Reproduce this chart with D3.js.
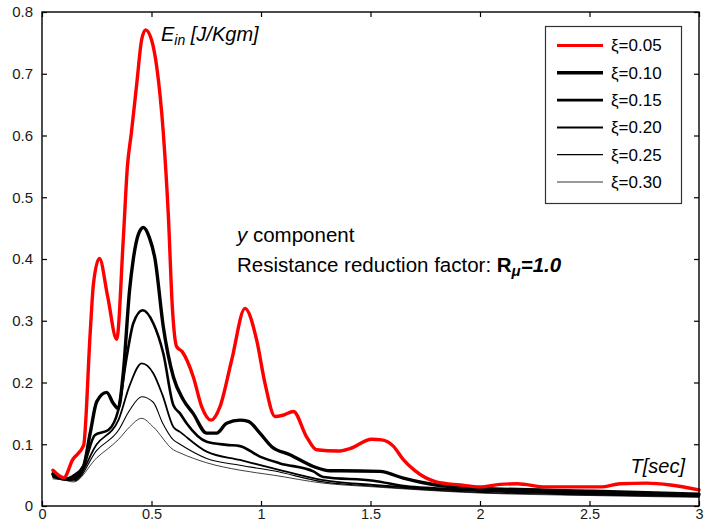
<!DOCTYPE html>
<html>
<head>
<meta charset="utf-8">
<script src="https://cdn.jsdelivr.net/npm/d3@7"></script>
<style>
  html, body { margin: 0; padding: 0; background: #fff; }
  svg { display: block; font-family: "Liberation Sans", Arial, sans-serif; }
</style>
</head>
<body>
<svg id="chart" width="720" height="524"></svg>
<script>
// Input energy spectra, y component, Rμ = 1.0
const dampingLabels = ["ξ=0.05", "ξ=0.10", "ξ=0.15", "ξ=0.20", "ξ=0.25", "ξ=0.30"];

const periods005 = [0.05, 0.10, 0.14, 0.19, 0.22, 0.235, 0.262, 0.30, 0.341, 0.371, 0.39, 0.408, 0.433, 0.455, 0.473, 0.50, 0.524, 0.554, 0.577, 0.595, 0.615, 0.64, 0.691, 0.729, 0.772, 0.813, 0.866, 0.927, 0.98, 1.018, 1.064, 1.10, 1.148, 1.208, 1.254, 1.353, 1.406, 1.505, 1.551, 1.604, 1.65, 1.70, 1.80, 1.91, 2.0, 2.09, 2.17, 2.30, 2.55, 2.64, 2.76, 2.87, 3.0];
const energy005  = [0.058, 0.046, 0.075, 0.098, 0.28, 0.36, 0.401, 0.339, 0.27, 0.431, 0.55, 0.604, 0.685, 0.755, 0.771, 0.755, 0.711, 0.604, 0.47, 0.323, 0.258, 0.25, 0.209, 0.161, 0.139, 0.161, 0.236, 0.320, 0.269, 0.199, 0.145, 0.147, 0.153, 0.112, 0.091, 0.089, 0.093, 0.108, 0.107, 0.097, 0.075, 0.058, 0.039, 0.034, 0.031, 0.035, 0.036, 0.031, 0.031, 0.036, 0.037, 0.034, 0.026];

const periods010 = [0.05, 0.113, 0.15, 0.189, 0.22, 0.25, 0.295, 0.326, 0.348, 0.371, 0.40, 0.417, 0.44, 0.463, 0.49, 0.516, 0.554, 0.60, 0.645, 0.69, 0.752, 0.798, 0.843, 0.904, 0.942, 0.995, 1.049, 1.132, 1.239, 1.315, 1.36, 1.543, 1.65, 1.80, 2.0, 2.5, 3.0];
const energy010  = [0.052, 0.044, 0.05, 0.064, 0.118, 0.169, 0.184, 0.166, 0.158, 0.215, 0.35, 0.40, 0.44, 0.451, 0.435, 0.40, 0.29, 0.209, 0.172, 0.150, 0.118, 0.118, 0.134, 0.139, 0.137, 0.118, 0.096, 0.083, 0.064, 0.057, 0.057, 0.056, 0.045, 0.034, 0.029, 0.024, 0.019];

const periods015 = [0.05, 0.10, 0.15, 0.19, 0.242, 0.303, 0.348, 0.387, 0.417, 0.46, 0.508, 0.554, 0.60, 0.63, 0.66, 0.752, 0.843, 0.904, 0.995, 1.087, 1.239, 1.284, 1.513, 1.68, 2.0, 2.5, 3.0];
const energy015  = [0.050, 0.044, 0.045, 0.065, 0.115, 0.123, 0.155, 0.242, 0.296, 0.317, 0.296, 0.247, 0.163, 0.15, 0.134, 0.104, 0.099, 0.097, 0.080, 0.069, 0.056, 0.047, 0.041, 0.031, 0.026, 0.021, 0.017];

const periods020 = [0.05, 0.10, 0.15, 0.25, 0.35, 0.40, 0.455, 0.508, 0.55, 0.60, 0.63, 0.752, 0.904, 1.056, 1.284, 1.513, 2.0, 2.5, 3.0];
const energy020  = [0.048, 0.043, 0.043, 0.10, 0.14, 0.195, 0.231, 0.215, 0.18, 0.128, 0.12, 0.088, 0.0745, 0.061, 0.042, 0.034, 0.024, 0.019, 0.016];

const periods025 = [0.05, 0.10, 0.15, 0.25, 0.35, 0.40, 0.455, 0.508, 0.55, 0.60, 0.63, 0.752, 0.904, 1.056, 1.284, 1.513, 2.0, 2.5, 3.0];
const energy025  = [0.046, 0.042, 0.041, 0.09, 0.123, 0.155, 0.177, 0.168, 0.135, 0.107, 0.10, 0.077, 0.066, 0.057, 0.039, 0.032, 0.022, 0.018, 0.015];

const periods030 = [0.05, 0.10, 0.143, 0.25, 0.35, 0.40, 0.455, 0.508, 0.60, 0.63, 0.752, 0.904, 1.056, 1.284, 1.513, 2.0, 2.5, 3.0];
const energy030  = [0.044, 0.042, 0.039, 0.078, 0.108, 0.128, 0.142, 0.128, 0.091, 0.086, 0.070, 0.058, 0.050, 0.037, 0.031, 0.021, 0.017, 0.014];

const xTicks = [0, 0.5, 1, 1.5, 2, 2.5, 3];
const yTicks = [0, 0.1, 0.2, 0.3, 0.4, 0.5, 0.6, 0.7, 0.8];

const seriesColors = ["#ff0000", "#000", "#000", "#000", "#000", "#000"];
const seriesWidths = [3.4, 3.4, 2.6, 1.8, 1.1, 0.75];
const legendWidths = [3.0, 3.6, 2.8, 2.0, 1.3, 0.8];

const periodSets = [periods005, periods010, periods015, periods020, periods025, periods030];
const energySets = [energy005, energy010, energy015, energy020, energy025, energy030];
const series = dampingLabels.map((label, i) => ({
  label,
  color: seriesColors[i],
  width: seriesWidths[i],
  legendWidth: legendWidths[i],
  points: periodSets[i].map((t, j) => ({ t, e: energySets[i][j] }))
}));

const svg = d3.select("#chart");
const plot = { left: 42, top: 12, right: 699, bottom: 506 };

const x = d3.scaleLinear().domain([0, 3]).range([plot.left, plot.right]);
const y = d3.scaleLinear().domain([0, 0.8]).range([plot.bottom, plot.top]);

const line = d3.line()
  .x(d => x(d.t))
  .y(d => y(d.e))
  .curve(d3.curveMonotoneX);

// Curves, thinnest drawn first so the red one sits on top
const curves = svg.append("g");
series.slice().reverse().forEach(s => {
  curves.append("path")
    .datum(s.points)
    .attr("fill", "none")
    .attr("stroke", s.color)
    .attr("stroke-width", s.width)
    .attr("stroke-linejoin", "round")
    .attr("stroke-linecap", "round")
    .attr("d", line);
});

// Axes with inward ticks on all four sides
const axisColor = "#000";

const bottomAxis = d3.axisBottom(x).tickValues(xTicks).tickSizeInner(-5).tickSizeOuter(0)
  .tickFormat(d3.format("~g")).tickPadding(3);
const topAxis = d3.axisTop(x).tickValues(xTicks).tickSizeInner(-5).tickSizeOuter(0).tickFormat("");
const leftAxis = d3.axisLeft(y).tickValues(yTicks).tickSizeInner(-5).tickSizeOuter(0)
  .tickFormat(d3.format("~g")).tickPadding(9);
const rightAxis = d3.axisRight(y).tickValues(yTicks).tickSizeInner(-5).tickSizeOuter(0).tickFormat("");

function styleAxis(g, size) {
  g.select(".domain").remove();
  g.selectAll(".tick line").attr("stroke", axisColor).attr("stroke-width", 1.2);
  g.selectAll(".tick text")
    .attr("fill", "#1a1a1a")
    .style("font-size", size + "px")
    .style("font-family", "'Liberation Sans', Arial, sans-serif");
}

svg.append("g").attr("transform", `translate(0,${plot.bottom})`).call(bottomAxis).call(styleAxis, 14.5);
svg.append("g").attr("transform", `translate(0,${plot.top})`).call(topAxis).call(styleAxis, 15);
svg.append("g").attr("transform", `translate(${plot.left},0)`).call(leftAxis).call(styleAxis, 15);
svg.append("g").attr("transform", `translate(${plot.right},0)`).call(rightAxis).call(styleAxis, 15);

svg.append("rect")
  .attr("x", plot.left).attr("y", plot.top)
  .attr("width", plot.right - plot.left).attr("height", plot.bottom - plot.top)
  .attr("fill", "none").attr("stroke", axisColor).attr("stroke-width", 1.4);

// Axis titles
const yTitle = svg.append("text")
  .attr("x", 161).attr("y", 41)
  .attr("font-size", 20).attr("font-style", "italic").attr("fill", "#000");
yTitle.append("tspan").text("E");
yTitle.append("tspan").attr("font-size", 14).attr("dy", 4).text("in");
yTitle.append("tspan").attr("dy", -4).text(" [J/Kgm]");

svg.append("text")
  .attr("x", 685).attr("y", 473)
  .attr("text-anchor", "end")
  .attr("font-size", 20).attr("font-style", "italic").attr("fill", "#000")
  .text("T[sec]");

// Annotation
const note1 = svg.append("text").attr("x", 237).attr("y", 242).attr("font-size", 20.5).attr("fill", "#000");
note1.append("tspan").attr("font-style", "italic").text("y");
note1.append("tspan").text(" component");

const note2 = svg.append("text").attr("x", 237).attr("y", 272).attr("font-size", 20.5).attr("fill", "#000");
note2.append("tspan").text("Resistance reduction factor: ");
note2.append("tspan").attr("font-weight", "bold").text("R");
note2.append("tspan").attr("font-weight", "bold").attr("font-style", "italic")
  .attr("font-size", 15).attr("dy", 4).text("μ");
note2.append("tspan").attr("font-weight", "bold").attr("font-style", "italic")
  .attr("dy", -4).text("=1.0");

// Legend
const legend = svg.append("g");
legend.append("rect")
  .attr("x", 545.5).attr("y", 26.5).attr("width", 136).attr("height", 177)
  .attr("fill", "#fff").attr("stroke", "#333").attr("stroke-width", 1.2);

const legendRows = d3.scalePoint().domain(dampingLabels).range([45.5, 182]);
series.forEach(s => {
  const ry = legendRows(s.label);
  legend.append("line")
    .attr("x1", 557).attr("x2", 603).attr("y1", ry).attr("y2", ry)
    .attr("stroke", s.color).attr("stroke-width", s.legendWidth);
  legend.append("text")
    .attr("x", 611).attr("y", ry).attr("dy", "0.35em")
    .attr("font-size", 17).attr("fill", "#000")
    .text(s.label);
});
</script>
</body>
</html>
